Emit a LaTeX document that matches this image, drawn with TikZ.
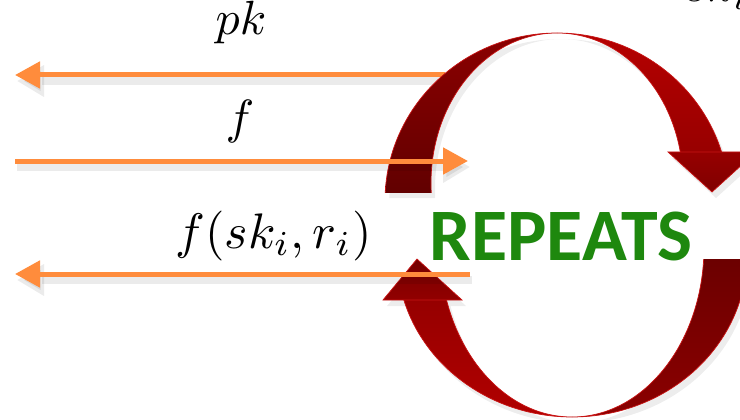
\documentclass[tikz,border=0pt]{standalone}
\usepackage{fontspec}
\newfontfamily\carlito{Carlito}
\usetikzlibrary{arrows.meta}
\definecolor{orng}{RGB}{255,140,60}
\definecolor{grn}{RGB}{30,136,14}
\definecolor{tlA}{RGB}{140,0,0}
\definecolor{tlB}{RGB}{98,0,0}
\definecolor{trA}{RGB}{182,0,0}
\definecolor{trB}{RGB}{152,0,0}
\definecolor{thA}{RGB}{150,0,0}
\definecolor{thB}{RGB}{128,0,0}
\definecolor{blA}{RGB}{150,0,0}
\definecolor{blB}{RGB}{178,0,0}
\definecolor{brA}{RGB}{108,0,0}
\definecolor{brB}{RGB}{140,0,0}
\definecolor{bhA}{RGB}{118,0,0}
\definecolor{bhB}{RGB}{146,0,0}
\definecolor{redge}{RGB}{200,20,20}
\begin{document}
\begin{tikzpicture}[x=1pt,y=-1pt,
  oarrow/.style={draw=orng, line width=5pt, -{Triangle[length=25pt,width=26pt,fill=orng]}},
  oshadow/.style={draw=black, opacity=0.08, line width=8pt, -{Triangle[length=27pt,width=30pt]}},
  lbl/.style={scale=4.8, inner sep=0pt, anchor=base},
  edgeline/.style={draw=redge, line width=0.7pt},
  rshadow/.style={fill=black, opacity=0.07},
]
\useasboundingbox (0,0) rectangle (740,420);
\clip (0,0) rectangle (740,420);
\fill[white] (0,0) rectangle (740,420);

% coordinates for connectors
\coordinate (a1s) at (445,75);
\coordinate (a1e) at (15,75);
\coordinate (a2s) at (15,161);
\coordinate (a2e) at (468,161);
\coordinate (a3s) at (470,274);
\coordinate (a3e) at (15,274);

% arrow 1 (behind the red arc)
\draw[oshadow] ([shift={(2,6)}]a1s) -- ([shift={(2,6)}]a1e);
\draw[oarrow] (a1s) -- (a1e);

% ---------- shadows of red arcs ----------
\begin{scope}[shift={(4,6)}]
  \begin{scope}
    \clip (370,20) rectangle (557,192) (557,20) rectangle (760,152);
    \fill[rshadow, even odd rule] (557,201) ellipse[x radius=172, y radius=168] (557,183) ellipse[x radius=126, y radius=150];
  \end{scope}
  \fill[rshadow] (668,152) -- (756,152) -- (712,192) -- cycle;
  \begin{scope}
    \clip (370,300) rectangle (572,430) (572,259) rectangle (760,430);
    \fill[rshadow, even odd rule] (572,255) ellipse[x radius=175, y radius=162] (572,247) ellipse[x radius=132, y radius=170];
  \end{scope}
  \fill[rshadow] (383,300) -- (462,300) -- (417,259) -- cycle;
\end{scope}

% ---------- top arc ----------
\begin{scope}
  \clip (370,20) rectangle (557,192);
  \begin{scope}[even odd rule]
    \clip (557,201) ellipse[x radius=172, y radius=168] (557,183) ellipse[x radius=126, y radius=150];
    \shade[top color=tlA, bottom color=tlB] (370,30) rectangle (557,192);
  \end{scope}
  \draw[edgeline] (557,201) ellipse[x radius=172, y radius=168] (557,183) ellipse[x radius=126, y radius=150];
\end{scope}
\begin{scope}
  \clip (557,20) rectangle (760,152);
  \begin{scope}[even odd rule]
    \clip (557,201) ellipse[x radius=172, y radius=168] (557,183) ellipse[x radius=126, y radius=150];
    \shade[top color=trA, bottom color=trB] (557,30) rectangle (760,152);
  \end{scope}
  \draw[edgeline] (557,201) ellipse[x radius=172, y radius=168] (557,183) ellipse[x radius=126, y radius=150];
\end{scope}
\shade[top color=thA, bottom color=thB, draw=redge, line width=0.7pt] (668,152) -- (756,152) -- (712,192) -- cycle;

% ---------- bottom arc ----------
\begin{scope}
  \clip (370,300) rectangle (572,430);
  \begin{scope}[even odd rule]
    \clip (572,255) ellipse[x radius=175, y radius=162] (572,247) ellipse[x radius=132, y radius=170];
    \shade[top color=blA, bottom color=blB] (370,300) rectangle (572,420);
  \end{scope}
  \draw[edgeline] (572,255) ellipse[x radius=175, y radius=162] (572,247) ellipse[x radius=132, y radius=170];
\end{scope}
\begin{scope}
  \clip (572,259) rectangle (760,430);
  \begin{scope}[even odd rule]
    \clip (572,255) ellipse[x radius=175, y radius=162] (572,247) ellipse[x radius=132, y radius=170];
    \shade[top color=brA, bottom color=brB] (572,259) rectangle (760,420);
  \end{scope}
  \draw[edgeline] (572,255) ellipse[x radius=175, y radius=162] (572,247) ellipse[x radius=132, y radius=170];
\end{scope}
\shade[top color=bhA, bottom color=bhB, draw=redge, line width=0.7pt] (383,300) -- (462,300) -- (417,259) -- cycle;

% arrows 2 and 3 (in front)
\draw[oshadow] ([shift={(2,6)}]a2s) -- ([shift={(2,6)}]a2e);
\draw[oarrow] (a2s) -- (a2e);
\draw[oshadow] ([shift={(2,6)}]a3s) -- ([shift={(2,6)}]a3e);
\draw[oarrow] (a3s) -- (a3e);

% labels
\node[lbl] (pk) at (241,35) {$pk$};
\node[lbl] (f) at (240,133) {$f$};
\node[lbl, scale=1.04] (fsk) at (273.5,248) {$f(sk_i,r_i)$};
\node[lbl, anchor=base west] (ski) at (684,2) {$sk_i$};
\node[font=\carlito\bfseries\fontsize{74}{80}\selectfont, text=grn, anchor=base, inner sep=0pt] (rep) at (561,260) {REPEATS};
\end{tikzpicture}
\end{document}
